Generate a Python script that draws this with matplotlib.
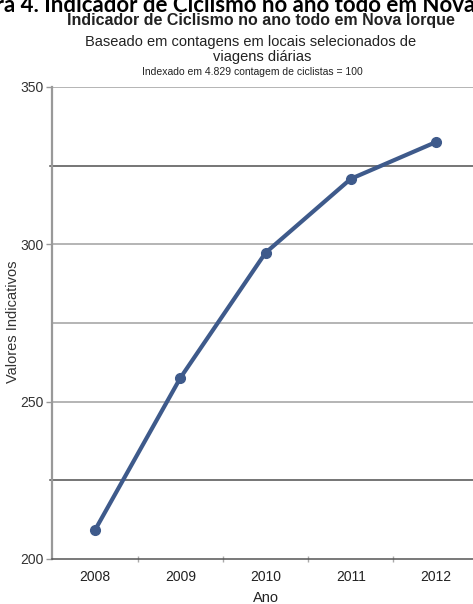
import matplotlib
matplotlib.use("Agg")
import matplotlib.pyplot as plt

plt.rcParams['font.family'] = ['Liberation Sans', 'DejaVu Sans']

years = ["2008", "2009", "2010", "2011", "2012"]
values = [209.2, 257.5, 297.3, 320.8, 332.5]
y_major = [200, 250, 300, 350]
y_dark = [225, 325]
y_light = [275]

W, H = 473, 604
fig = plt.figure(figsize=(W / 100, H / 100), dpi=100)

# axes placed in pixel terms (right edge runs past the figure)
left, right, top, bottom = 52.4, 478.6, 87, 559
ax = fig.add_axes([left / W, 1 - bottom / H, (right - left) / W, (bottom - top) / H])

x = list(range(len(years)))
ax.set_xlim(-0.5, len(years) - 0.5)
ax.set_ylim(200, 350)

for v in y_major[1:]:
    ax.axhline(v, color='#a0a0a0', lw=1.1, zorder=1)
for v in y_light:
    ax.axhline(v, color='#a0a0a0', lw=1.1, zorder=1)
for v in y_dark:
    ax.plot([-0.53, 4.5], [v, v], color='#505050', lw=1.1, zorder=1, clip_on=False)

ax.plot(x, values, color='#3e5a8b', lw=3.0, marker='o', ms=7, zorder=3)

ax.set_yticks(y_major)
ax.set_yticklabels([str(v) for v in y_major], fontsize=10, color='#333333')
ax.tick_params(axis='y', length=4, color='#999999', width=1, pad=2)

ax.set_xticks(x)
ax.set_xticklabels(years, fontsize=10, color='#222222')
ax.tick_params(axis='x', length=0, pad=8)
ax.set_xticks([i + 0.5 for i in x[:-1]], minor=True)
ax.tick_params(axis='x', which='minor', length=4, color='#aaaaaa', width=1, direction='inout')

for s in ['top', 'right']:
    ax.spines[s].set_visible(False)
ax.spines['left'].set_color('#999999')
ax.spines['left'].set_linewidth(1.6)
ax.spines['bottom'].set_color('#555555')
ax.spines['bottom'].set_linewidth(1.1)

ax.set_xlabel("Ano", fontsize=10.5, color='#222222', va='center')
ax.xaxis.set_label_coords((266 - left) / (right - left), -(598 - bottom) / (bottom - top))
ax.set_ylabel("Valores Indicativos", fontsize=10.5, color='#333333', va='center')
ax.yaxis.set_label_coords((13 - left) / (right - left), (bottom - 322) / (bottom - top))

# titles (document caption, cut off at the top edge)
fig.text(-0.10, 1 - 12 / H, "Figura 4. Indicador de Ciclismo no ano todo em Nova Iorque",
         fontsize=16, fontweight='bold', family=['Lato', 'DejaVu Sans'],
         ha='left', va='baseline', color='black')
fig.text(261 / W, 1 - 21 / H, "Indicador de Ciclismo no ano todo em Nova Iorque",
         fontsize=11.5, fontweight='bold', ha='center', va='center', color='#222222')
fig.text(251 / W, 1 - 42 / H, "Baseado em contagens em locais selecionados de",
         fontsize=10.5, ha='center', va='center', color='#222222')
fig.text(262 / W, 1 - 56.5 / H, "viagens diárias",
         fontsize=10.5, ha='center', va='center', color='#222222')
fig.text(252 / W, 1 - 72 / H, "Indexado em 4.829 contagem de ciclistas = 100",
         fontsize=7.5, ha='center', va='center', color='#222222')

fig.savefig("out.png", dpi=100)
